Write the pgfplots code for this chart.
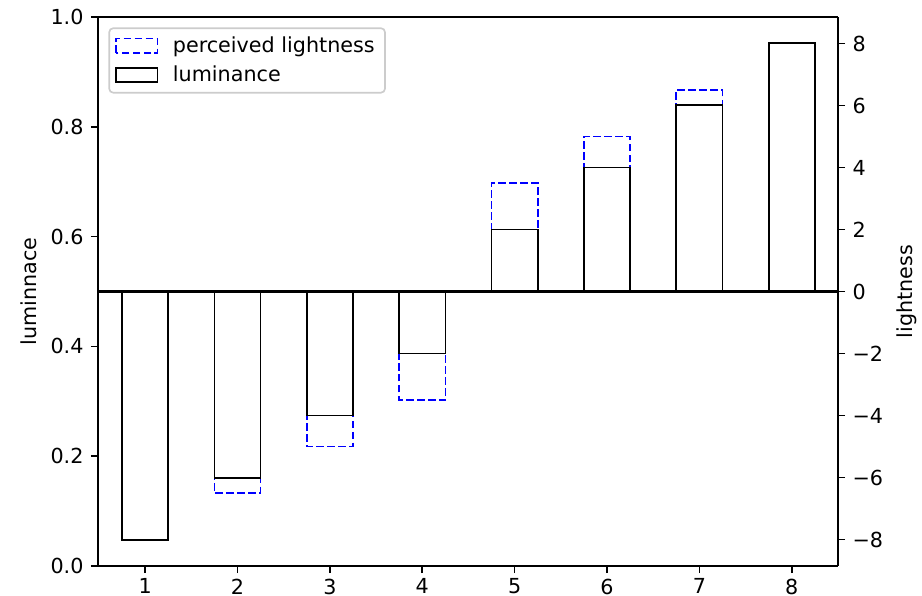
\documentclass[border=0pt]{standalone}
\usepackage{pgfplots}
\usepackage{pgfplotstable}
\pgfplotsset{compat=1.18}
\usepackage{fontspec}
\setmainfont{DejaVu Sans}

% luminance per step, and its perceived lightness
\pgfplotstableread{
x  lum
1  0.047
2  0.160
3  0.274
4  0.387
5  0.613
6  0.726
7  0.840
8  0.953
}\lumtable
\pgfplotstableread{
x  light
1  -8
2  -6.5
3  -5
4  -3.5
5  3.5
6  5
7  6.5
8  8
}\lighttable

\def\px{0.4832pt}

\pgfplotsset{
  base/.style={
    scale only axis,
    width=740*\px, height=549*\px,
    at={(0,0)}, anchor=south west,
    xmin=0.49, xmax=8.5,
    axis line style={line width=0.8pt},
    tick style={line width=0.8pt, black},
    major tick length=3.5pt,
    tick align=outside,
    ticklabel style={font=\fontsize{10}{12}\selectfont},
    xticklabel style={inner ysep=1pt, yshift=-1.5pt},
    label style={font=\fontsize{10}{12}\selectfont},
    /pgf/number format/assume math mode=true,
  },
}

\begin{document}
\begin{tikzpicture}
\path[use as bounding box] ({-98*0.4832pt},{-30*0.4832pt}) rectangle ({824*0.4832pt},{566*0.4832pt});

% right axis: perceived lightness (dashed blue)
\begin{axis}[base,
  axis x line=none,
  axis y line*=right,
  ymin=-8.855, ymax=8.855,
  ytick={-8,-6,-4,-2,0,2,4,6,8},
  yticklabels={−8,−6,−4,−2,0,2,4,6,8},
  ylabel={lightness},
  ylabel style={xshift=0pt},
]
\addplot[ybar, bar width=0.5, bar shift=0pt, draw=blue, fill=none,
  line width=0.8pt, dash pattern=on 3.7pt off 1.6pt]
  table[x=x, y=light] {\lighttable};
\end{axis}

% left axis: luminance (black), bars grow from 0.5
\begin{axis}[base,
  axis y line*=left,
  axis x line*=bottom,
  ymin=-0.5, ymax=0.5,
  ytick={-0.5,-0.3,-0.1,0.1,0.3,0.5},
  yticklabels={0.0,0.2,0.4,0.6,0.8,1.0},
  xtick={1,2,3,4,5,6,7,8},
  ylabel={luminnace},
  legend cell align=left,
  legend style={at={(0,1)}, anchor=north west, xshift=5pt, yshift=-5pt,
    draw=black!20, fill=white, fill opacity=0.8, text opacity=1,
    rounded corners=2pt, line width=0.8pt,
    font=\fontsize{10}{12}\selectfont,
    inner xsep=3pt, inner ysep=2pt, row sep=1pt},
]
\draw[line width=0.8pt] (rel axis cs:0,1) -- (rel axis cs:1,1);
\draw[line width=0.8pt] (rel axis cs:1,0) -- (rel axis cs:1,1);
\addlegendimage{legend image code/.code={
  \draw[sharp corners, blue, line width=0.8pt, dash pattern=on 3.7pt off 1.6pt]
    (1pt,-3.5pt) rectangle (21pt,3.5pt);
  \path (26pt,0pt);}}
\addlegendentry{perceived lightness}
\addplot[ybar, bar width=0.5, bar shift=0pt, draw=black, fill=none,
  line width=0.8pt,
  legend image code/.code={\draw[sharp corners, black, line width=0.8pt]
    (1pt,-3.5pt) rectangle (21pt,3.5pt);
  \path (26pt,0pt);}]
  table[x=x, y expr=\thisrow{lum}-0.5] {\lumtable};
\addlegendentry{luminance}
\draw[black, line width=1.2pt] (rel axis cs:0,0.5) -- (rel axis cs:1,0.5);
\end{axis}
\end{tikzpicture}
\end{document}
